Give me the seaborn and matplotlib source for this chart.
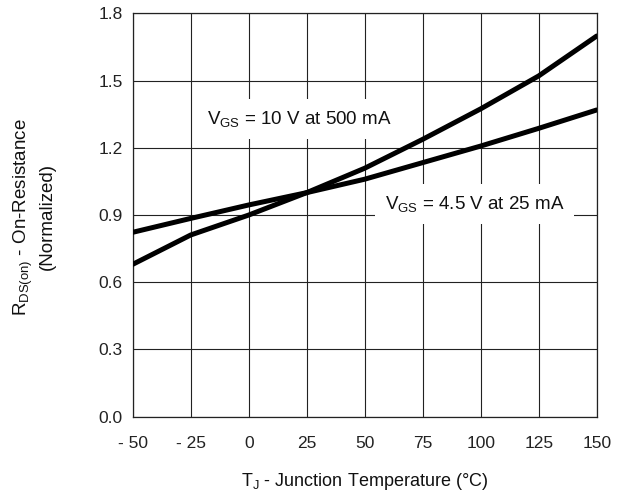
import matplotlib
matplotlib.use("Agg")
import matplotlib.pyplot as plt
import seaborn as sns
import pandas as pd

# Data
temps = [-50, -25, 0, 25, 50, 75, 100, 125, 150]
r_10v = [0.680, 0.811, 0.900, 1.000, 1.109, 1.238, 1.374, 1.521, 1.699]
r_45v = [0.823, 0.885, 0.945, 1.000, 1.060, 1.134, 1.208, 1.287, 1.369]
series_names = ["VGS = 10 V at 500 mA", "VGS = 4.5 V at 25 mA"]
x_ticks = [-50, -25, 0, 25, 50, 75, 100, 125, 150]
x_tick_labels = ["- 50", "- 25", "0", "25", "50", "75", "100", "125", "150"]
y_ticks = [0.0, 0.3, 0.6, 0.9, 1.2, 1.5, 1.8]
y_tick_labels = ["0.0", "0.3", "0.6", "0.9", "1.2", "1.5", "1.8"]

df = pd.DataFrame({
    "T": temps * 2,
    "R": r_10v + r_45v,
    "series": [series_names[0]] * len(temps) + [series_names[1]] * len(temps),
})

sns.set_style("white")
plt.rcParams["font.family"] = ["Liberation Sans", "DejaVu Sans"]
plt.rcParams["mathtext.fontset"] = "custom"
plt.rcParams["mathtext.rm"] = "Liberation Sans"
plt.rcParams["mathtext.it"] = "Liberation Sans"
plt.rcParams["mathtext.bf"] = "Liberation Sans:bold"

fig = plt.figure(figsize=(6.26, 4.95), dpi=100)
ax = fig.add_axes([132.7 / 626, (495 - 416.7) / 495, 464 / 626, 403.3 / 495])

sns.lineplot(data=df, x="T", y="R", hue="series", palette=["black", "black"],
             linewidth=3.6, legend=False, ax=ax, zorder=3)

ax.set_xlim(-50, 150)
ax.set_ylim(0, 1.8)
ax.set_xticks(x_ticks)
ax.set_xticklabels(x_tick_labels)
ax.set_yticks(y_ticks)
ax.set_yticklabels(y_tick_labels)
ax.tick_params(axis="both", length=0, labelsize=12.5, colors="#222222")
ax.tick_params(axis="x", pad=14)
ax.tick_params(axis="y", pad=7)
ax.grid(True, color="#222222", linewidth=0.8)
ax.set_axisbelow(True)
for s in ax.spines.values():
    s.set_color("#222222")
    s.set_linewidth(0.9)
ax.set_xlabel("")
ax.set_ylabel("")

box = dict(facecolor="white", edgecolor="none", pad=7)
ax.text(-17.8, 1.307, r"$\mathregular{V_{GS}}$ = 10 V at 500 mA", fontsize=13.5,
        ha="left", va="baseline", bbox=box, zorder=2, color="#111111")
ax.text(58.75, 0.926, r"$\mathregular{V_{GS}}$ = 4.5 V at 25 mA", fontsize=13.5,
        ha="left", va="baseline", bbox=box, zorder=2, color="#111111")

fig.text(364.7 / 626, (495 - 481.7) / 495,
         r"$\mathregular{T_J}$ - Junction Temperature (°C)",
         ha="center", va="center", fontsize=13, color="#111111")
fig.text(34 / 626, (495 - 217) / 495,
         r"$\mathregular{R_{DS(on)}}$ - On-Resistance" + "\n(Normalized)",
         ha="center", va="center", rotation=90, multialignment="center",
         fontsize=13.5, color="#111111", linespacing=1.25)

fig.savefig("out.png", dpi=100)
